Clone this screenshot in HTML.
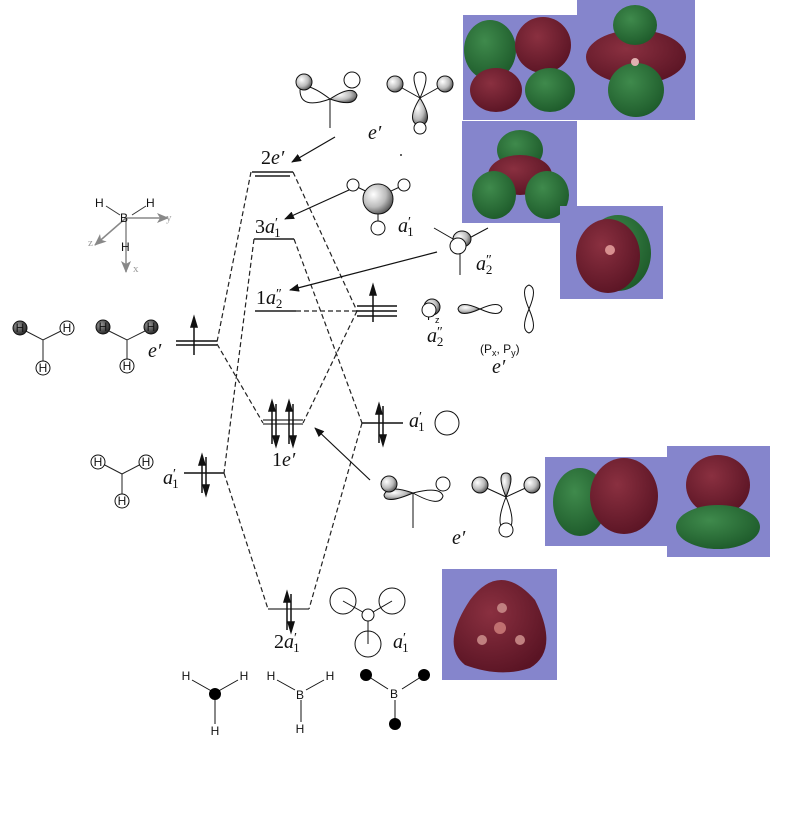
<!DOCTYPE html>
<html><head><meta charset="utf-8"><style>
body{margin:0;background:#fff;width:785px;height:823px;overflow:hidden}
svg{display:block}
.l{font-family:"Liberation Serif",serif;font-style:italic;font-size:20px;fill:#111}
.n{font-family:"Liberation Serif",serif;font-size:20px;fill:#111}
.s{font-family:"Liberation Sans",sans-serif;font-size:12px;fill:#111}
.g{font-family:"Liberation Serif",serif;font-size:11px;fill:#999}
.p{font-style:normal;font-size:14px}
.b{font-style:normal;font-size:13px}
</style></head><body>
<svg width="785" height="823" viewBox="0 0 785 823" xmlns="http://www.w3.org/2000/svg">
<defs>
<radialGradient id="ball" cx="0.35" cy="0.35" r="0.7"><stop offset="0" stop-color="#fff"/><stop offset="0.6" stop-color="#bbb"/><stop offset="1" stop-color="#555"/></radialGradient>
<radialGradient id="dk" cx="0.35" cy="0.35" r="0.7"><stop offset="0" stop-color="#999"/><stop offset="1" stop-color="#222"/></radialGradient>
<radialGradient id="gr" cx="0.4" cy="0.35" r="0.7"><stop offset="0" stop-color="#3f8a4c"/><stop offset="1" stop-color="#1d5a2a"/></radialGradient>
<radialGradient id="rd" cx="0.4" cy="0.35" r="0.7"><stop offset="0" stop-color="#8a3040"/><stop offset="1" stop-color="#5a1424"/></radialGradient>
<marker id="ah" markerWidth="10" markerHeight="8" refX="9" refY="4" orient="auto" markerUnits="userSpaceOnUse"><path d="M0,0 L10,4 L0,8 z" fill="#111"/></marker>
<marker id="gh" markerWidth="12" markerHeight="10" refX="11" refY="5" orient="auto" markerUnits="userSpaceOnUse"><path d="M0,0 L12,5 L0,10 L3,5 z" fill="#888"/></marker>
</defs>

<g>
<rect x="463" y="15" width="115" height="105" fill="#8585cc"/>
<ellipse cx="490" cy="50" rx="26" ry="30" fill="url(#gr)"/>
<ellipse cx="543" cy="45" rx="28" ry="28" fill="url(#rd)"/>
<ellipse cx="496" cy="90" rx="26" ry="22" fill="url(#rd)"/>
<ellipse cx="550" cy="90" rx="25" ry="22" fill="url(#gr)"/>
<rect x="577" y="0" width="118" height="120" fill="#8585cc"/>
<ellipse cx="636" cy="57" rx="50" ry="27" fill="url(#rd)"/>
<ellipse cx="635" cy="25" rx="22" ry="20" fill="url(#gr)"/>
<ellipse cx="636" cy="90" rx="28" ry="27" fill="url(#gr)"/>
<circle cx="635" cy="62" r="4" fill="#e0b0b0"/>
<rect x="462" y="121" width="115" height="102" fill="#8585cc"/>
<ellipse cx="520" cy="150" rx="23" ry="20" fill="url(#gr)"/>
<ellipse cx="520" cy="175" rx="32" ry="20" fill="url(#rd)"/>
<ellipse cx="494" cy="195" rx="22" ry="24" fill="url(#gr)"/>
<ellipse cx="547" cy="195" rx="22" ry="24" fill="url(#gr)"/>
<rect x="560" y="206" width="103" height="93" fill="#8585cc"/>
<ellipse cx="618" cy="253" rx="33" ry="38" fill="url(#gr)"/>
<ellipse cx="608" cy="256" rx="32" ry="37" fill="url(#rd)"/>
<circle cx="610" cy="250" r="5" fill="#d89090"/>
<rect x="545" y="457" width="122" height="89" fill="#8585cc"/>
<ellipse cx="580" cy="502" rx="27" ry="34" fill="url(#gr)"/>
<ellipse cx="624" cy="496" rx="34" ry="38" fill="url(#rd)"/>
<rect x="667" y="446" width="103" height="111" fill="#8585cc"/>
<ellipse cx="718" cy="485" rx="32" ry="30" fill="url(#rd)"/>
<ellipse cx="718" cy="527" rx="42" ry="22" fill="url(#gr)"/>
<rect x="442" y="569" width="115" height="111" fill="#8585cc"/>
<path d="M470,600 Q500,560 535,600 Q560,650 530,668 Q500,678 465,665 Q440,645 470,600 z" fill="url(#rd)"/>
<circle cx="502" cy="608" r="5" fill="#c08080"/><circle cx="500" cy="628" r="6" fill="#c07070"/>
<circle cx="482" cy="640" r="5" fill="#c08080"/><circle cx="520" cy="640" r="5" fill="#c08080"/>
</g>

<g stroke="#555" stroke-width="2" fill="none">
<line x1="252" y1="172" x2="293" y2="172"/><line x1="255" y1="176" x2="290" y2="176"/>
<line x1="254" y1="239" x2="294" y2="239"/>
<line x1="255" y1="311" x2="296" y2="311"/>
<line x1="268" y1="609" x2="309" y2="609" stroke-width="1.5"/>
</g>
<g stroke="#111" stroke-width="1.5" fill="none">
<line x1="357" y1="306" x2="397" y2="306"/><line x1="357" y1="311" x2="397" y2="311"/><line x1="357" y1="316" x2="397" y2="316"/>
<line x1="176" y1="341" x2="217" y2="341"/><line x1="176" y1="345" x2="217" y2="345"/>
<line x1="263" y1="420" x2="303" y2="420" stroke="#555"/><line x1="263" y1="424" x2="303" y2="424" stroke="#555"/>
<line x1="362" y1="423" x2="403" y2="423"/>
<line x1="184" y1="473" x2="224" y2="473"/>
</g>
<g stroke="#111" stroke-width="1.5" fill="#111">
<line x1="373" y1="322" x2="373" y2="290"/><path d="M373,285 l-3,10 h6z"/>
<line x1="194" y1="355" x2="194" y2="322"/><path d="M194,317 l-3,10 h6z"/>
<line x1="272" y1="444" x2="272" y2="406"/><path d="M272,401 l-3,10 h6z"/>
<line x1="276" y1="404" x2="276" y2="441"/><path d="M276,446 l-3,-10 h6z"/>
<line x1="289" y1="444" x2="289" y2="406"/><path d="M289,401 l-3,10 h6z"/>
<line x1="293" y1="404" x2="293" y2="441"/><path d="M293,446 l-3,-10 h6z"/>
<line x1="379" y1="443" x2="379" y2="409"/><path d="M379,404 l-3,10 h6z"/>
<line x1="383" y1="406" x2="383" y2="440"/><path d="M383,445 l-3,-10 h6z"/>
<line x1="202" y1="493" x2="202" y2="460"/><path d="M202,455 l-3,10 h6z"/>
<line x1="206" y1="457" x2="206" y2="490"/><path d="M206,495 l-3,-10 h6z"/>
<line x1="287" y1="630" x2="287" y2="597"/><path d="M287,592 l-3,10 h6z"/>
<line x1="291" y1="594" x2="291" y2="627"/><path d="M291,632 l-3,-10 h6z"/>
</g>
<g stroke="#222" stroke-width="1.2" stroke-dasharray="5,3" fill="none">
<line x1="251" y1="172" x2="217" y2="342"/>
<line x1="293" y1="172" x2="357" y2="311"/>
<line x1="254" y1="239" x2="224" y2="473"/>
<line x1="294" y1="239" x2="362" y2="423"/>
<line x1="296" y1="311" x2="357" y2="311"/>
<line x1="217" y1="344" x2="263" y2="423"/>
<line x1="357" y1="311" x2="303" y2="423"/>
<line x1="224" y1="473" x2="268" y2="609"/>
<line x1="362" y1="423" x2="309" y2="609"/>
</g>
<g stroke="#111" stroke-width="1.2" marker-end="url(#ah)">
<line x1="335" y1="137" x2="292" y2="162"/>
<line x1="349" y1="190" x2="285" y2="219"/>
<line x1="437" y1="252" x2="290" y2="290"/>
<line x1="370" y1="480" x2="315" y2="428"/>
</g>

<!-- labels -->
<text class="n" x="261" y="164">2<tspan class="l">e′</tspan></text>
<text class="n" x="255" y="233">3<tspan class="l">a</tspan><tspan class="p" dy="-6">′</tspan><tspan class="b" dx="-4" dy="10">1</tspan></text>
<text class="n" x="256" y="304">1<tspan class="l">a</tspan><tspan class="p" dy="-6">″</tspan><tspan class="b" dx="-6" dy="10">2</tspan></text>
<text class="n" x="272" y="466">1<tspan class="l">e′</tspan></text>
<text class="n" x="274" y="648">2<tspan class="l">a</tspan><tspan class="p" dy="-6">′</tspan><tspan class="b" dx="-4" dy="10">1</tspan></text>
<text class="l" x="148" y="357">e′</text>
<text class="l" x="163" y="484">a<tspan class="p" dy="-6">′</tspan><tspan class="b" dx="-4" dy="10">1</tspan></text>
<text class="l" x="409" y="427">a<tspan class="p" dy="-6">′</tspan><tspan class="b" dx="-4" dy="10">1</tspan></text>
<text class="l" x="368" y="139">e′</text>
<text class="l" x="398" y="232">a<tspan class="p" dy="-6">′</tspan><tspan class="b" dx="-4" dy="10">1</tspan></text>
<text class="l" x="476" y="270">a<tspan class="p" dy="-6">″</tspan><tspan class="b" dx="-6" dy="10">2</tspan></text>
<text class="l" x="427" y="342">a<tspan class="p" dy="-6">″</tspan><tspan class="b" dx="-6" dy="10">2</tspan></text>
<text class="l" x="492" y="373">e′</text>
<text class="l" x="452" y="544">e′</text>
<text class="l" x="393" y="648">a<tspan class="p" dy="-6">′</tspan><tspan class="b" dx="-4" dy="10">1</tspan></text>
<text class="s" x="427" y="320" font-size="14">P<tspan font-size="9" dy="3">z</tspan></text>
<text class="s" x="480" y="353" font-size="14">(P<tspan font-size="9" dy="3">x</tspan><tspan dy="-3">, P</tspan><tspan font-size="9" dy="3">y</tspan><tspan dy="-3">)</tspan></text>
<circle cx="401" cy="155" r="1" fill="#333"/>

<g stroke="#888" stroke-width="1.5" marker-end="url(#gh)">
<line x1="126" y1="218" x2="168" y2="218"/>
<line x1="126" y1="218" x2="95" y2="245"/>
<line x1="126" y1="218" x2="126" y2="272"/>
</g>
<g stroke="#333" stroke-width="1"><line x1="106" y1="206" x2="120" y2="215"/><line x1="146" y1="206" x2="132" y2="215"/></g>
<text class="s" x="95" y="207">H</text><text class="s" x="146" y="207">H</text>
<text class="s" x="120" y="222">B</text><text class="s" x="121" y="251">H</text>
<text class="g" x="166" y="221">y</text><text class="g" x="88" y="246">z</text><text class="g" x="133" y="272">x</text>

<g stroke="#222" stroke-width="1" fill="none">
<path d="M20,328 L43,340 L67,328 M43,340 L43,367"/>
<path d="M103,328 L127,340 L151,328 M127,340 L127,366"/>
<path d="M99,462 L122,474 L145,462 M122,474 L122,500"/>
</g>
<circle cx="20" cy="328" r="7" fill="url(#dk)" stroke="#111"/><circle cx="67" cy="328" r="7" fill="#fff" stroke="#111"/><circle cx="43" cy="368" r="7" fill="#fff" stroke="#111"/>
<circle cx="103" cy="327" r="7" fill="url(#dk)" stroke="#111"/><circle cx="151" cy="327" r="7" fill="url(#dk)" stroke="#111"/><circle cx="127" cy="366" r="7" fill="#fff" stroke="#111"/>
<circle cx="98" cy="462" r="7" fill="#fff" stroke="#111"/><circle cx="146" cy="462" r="7" fill="#fff" stroke="#111"/><circle cx="122" cy="501" r="7" fill="#fff" stroke="#111"/>
<g class="s" font-size="10" text-anchor="middle">
<text x="20" y="332">H</text><text x="67" y="332">H</text><text x="43" y="372">H</text>
<text x="103" y="331">H</text><text x="151" y="331">H</text><text x="127" y="370">H</text>
<text x="98" y="466">H</text><text x="146" y="466">H</text><text x="122" y="505">H</text>
</g>

<g stroke="#111" stroke-width="1" fill="none">
<path d="M330,99 L330,128"/>
<path d="M330,99 Q300,110 300,90 Q305,80 330,99"/>
<path d="M330,99 Q355,108 357,95 Q353,84 330,99" fill="url(#ball)"/>
<circle cx="304" cy="82" r="8" fill="url(#ball)"/><circle cx="352" cy="80" r="8" fill="#fff"/>
<line x1="395" y1="84" x2="420" y2="98"/><line x1="445" y1="84" x2="420" y2="98"/>
<path d="M420,98 Q408,72 420,72 Q432,72 420,98"/>
<path d="M420,98 Q405,122 420,126 Q435,122 420,98" fill="url(#ball)"/>
<circle cx="420" cy="128" r="6" fill="#fff"/>
<circle cx="395" cy="84" r="8" fill="url(#ball)"/><circle cx="445" cy="84" r="8" fill="url(#ball)"/>
<line x1="353" y1="185" x2="378" y2="197"/><line x1="404" y1="185" x2="378" y2="197"/><line x1="378" y1="197" x2="378" y2="227"/>
<circle cx="353" cy="185" r="6" fill="#fff"/><circle cx="404" cy="185" r="6" fill="#fff"/><circle cx="378" cy="228" r="7" fill="#fff"/>
<circle cx="378" cy="199" r="15" fill="url(#ball)"/>
<line x1="434" y1="228" x2="460" y2="243"/><line x1="488" y1="228" x2="460" y2="243"/><line x1="460" y1="243" x2="460" y2="275"/>
<ellipse cx="462" cy="239" rx="9" ry="8" fill="url(#ball)"/>
<circle cx="458" cy="246" r="8" fill="#fff"/>
<ellipse cx="432" cy="307" rx="8" ry="8" fill="url(#ball)"/><circle cx="429" cy="310" r="7" fill="#fff"/>
<path d="M480,309 Q460,318 458,309 Q460,300 480,309" fill="url(#ball)"/>
<path d="M480,309 Q500,318 502,309 Q500,300 480,309"/>
<path d="M529,309 Q520,288 529,285 Q538,288 529,309"/>
<path d="M529,309 Q520,330 529,333 Q538,330 529,309"/>
<circle cx="447" cy="423" r="12" fill="#fff"/>
<path d="M413,493 L413,528"/>
<path d="M413,493 Q385,505 384,495 Q388,484 413,493" fill="url(#ball)"/>
<path d="M413,493 Q440,508 443,496 Q440,486 413,493"/>
<circle cx="389" cy="484" r="8" fill="url(#ball)"/><circle cx="443" cy="484" r="7" fill="#fff"/>
<line x1="480" y1="485" x2="506" y2="497"/><line x1="532" y1="485" x2="506" y2="497"/>
<path d="M506,497 Q496,473 506,473 Q516,473 506,497" fill="url(#ball)"/>
<path d="M506,497 Q494,527 506,530 Q518,527 506,497"/>
<circle cx="506" cy="530" r="7" fill="#fff"/>
<circle cx="480" cy="485" r="8" fill="url(#ball)"/><circle cx="532" cy="485" r="8" fill="url(#ball)"/>
<circle cx="343" cy="601" r="13"/><circle cx="392" cy="601" r="13"/><circle cx="368" cy="644" r="13"/>
<line x1="343" y1="601" x2="368" y2="615"/><line x1="392" y1="601" x2="368" y2="615"/><line x1="368" y1="615" x2="368" y2="644"/>
<circle cx="368" cy="615" r="6" fill="#fff"/>
</g>

<g stroke="#111" stroke-width="1">
<line x1="192" y1="680" x2="215" y2="693"/><line x1="238" y1="680" x2="215" y2="693"/><line x1="215" y1="693" x2="215" y2="724"/>
<line x1="277" y1="680" x2="295" y2="690"/><line x1="324" y1="680" x2="306" y2="690"/><line x1="301" y1="700" x2="301" y2="722"/>
<line x1="366" y1="675" x2="388" y2="689"/><line x1="424" y1="675" x2="402" y2="689"/><line x1="395" y1="700" x2="395" y2="723"/>
</g>
<circle cx="215" cy="694" r="6" fill="#000"/>
<circle cx="366" cy="675" r="6" fill="#000"/><circle cx="424" cy="675" r="6" fill="#000"/><circle cx="395" cy="724" r="6" fill="#000"/>
<g class="s" font-size="12" text-anchor="middle">
<text x="186" y="680">H</text><text x="244" y="680">H</text><text x="215" y="735">H</text>
<text x="271" y="680">H</text><text x="330" y="680">H</text><text x="300" y="699">B</text><text x="300" y="733">H</text>
<text x="394" y="698">B</text>
</g>
</svg>
</body></html>
